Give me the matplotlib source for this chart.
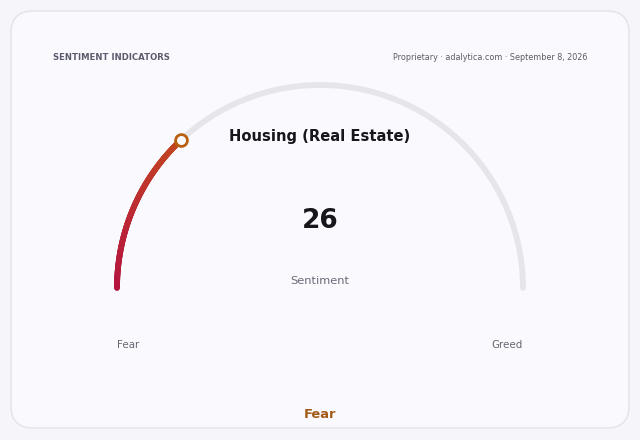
import numpy as np
import matplotlib
matplotlib.use("Agg")
import matplotlib.pyplot as plt
from matplotlib.collections import LineCollection
from matplotlib.patches import FancyBboxPatch
from matplotlib.colors import LinearSegmentedColormap

# ---- data ----
title = "Housing (Real Estate)"
value = 26
vmin, vmax = 0, 100
value_label = "Sentiment"
zone_label = "Fear"
end_labels = ["Fear", "Greed"]
header_left = "SENTIMENT INDICATORS"
header_right = "Proprietary · adalytica.com · September 8, 2026"

W, H = 640, 440
fig = plt.figure(figsize=(W / 100, H / 100), dpi=100)
fig.patch.set_facecolor("#f6f6fa")
ax = fig.add_axes([0, 0, 1, 1])
ax.set_xlim(0, W)
ax.set_ylim(H, 0)
ax.axis("off")

# card
card = FancyBboxPatch((11, 11), 618, 417, boxstyle="round,pad=0,rounding_size=22",
                      facecolor="#fafafe", edgecolor="#e2e2ea", linewidth=1.0, zorder=1)
ax.add_patch(card)

cx, cy, R = 320, 288, 203
lw = 4.2

# background track
t = np.linspace(np.pi, 0, 400)
ax.plot(cx + R * np.cos(t), cy - R * np.sin(t), color="#e6e6ea", lw=lw,
        solid_capstyle="round", zorder=2)

# value arc with gradient
frac = (value - vmin) / (vmax - vmin)
ang_end = np.pi - frac * np.pi
tv = np.linspace(np.pi, ang_end, 200)
xs = cx + R * np.cos(tv)
ys = cy - R * np.sin(tv)
pts = np.column_stack([xs, ys]).reshape(-1, 1, 2)
segs = np.concatenate([pts[:-1], pts[1:]], axis=1)
cmap = LinearSegmentedColormap.from_list("g", ["#b3143f", "#bd2a33", "#c2461f"])
lc = LineCollection(segs, colors=cmap(np.linspace(0, 1, len(segs))), linewidths=lw,
                    capstyle="round", zorder=3)
ax.add_collection(lc)

# marker
ax.plot([xs[-1]], [ys[-1]], marker="o", markersize=8.5, markerfacecolor="#fafafe",
        markeredgecolor="#b8600f", markeredgewidth=2.0, zorder=4)

# texts
ax.text(53, 57, header_left, fontsize=6.1, fontweight="bold", color="#5b5b6e",
        ha="left", va="center", zorder=5)
ax.text(587, 57, header_right, fontsize=5.8, color="#5b5b66",
        ha="right", va="center", zorder=5)
ax.text(320, 137, title, fontsize=10.6, fontweight="bold", color="#16161c",
        ha="center", va="center", zorder=5)
ax.text(320, 221, f"{value}", fontsize=19, fontweight="bold", color="#16161c",
        ha="center", va="center", zorder=5)
ax.text(320, 281, value_label, fontsize=8.2, color="#6a6a78",
        ha="center", va="center", zorder=5)
ax.text(128, 345, end_labels[0], fontsize=7.4, color="#666672",
        ha="center", va="center", zorder=5)
ax.text(507, 345, end_labels[1], fontsize=7.4, color="#666672",
        ha="center", va="center", zorder=5)
ax.text(320, 414, zone_label, fontsize=9.4, fontweight="bold", color="#a35a17",
        ha="center", va="center", zorder=5)

fig.savefig("out.png", dpi=100, facecolor=fig.get_facecolor())
